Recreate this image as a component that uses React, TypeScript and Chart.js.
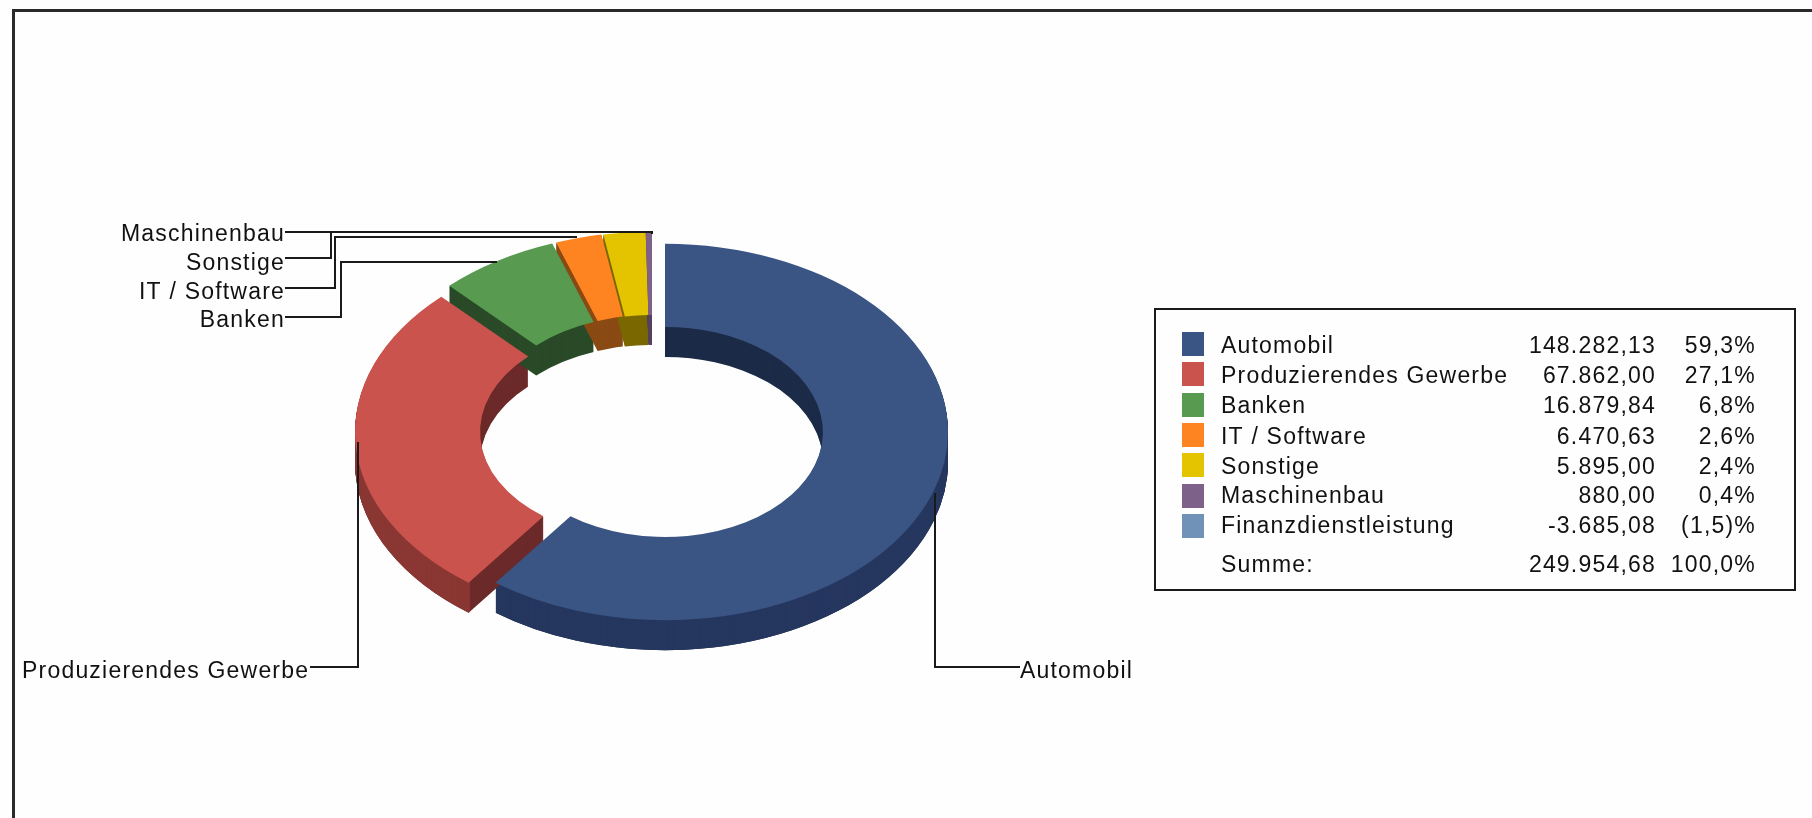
import React, { useEffect, useRef } from "react";
import { Chart, registerables } from "chart.js";

Chart.register(...registerables);

// ---- data ----
const categories = ["Automobil", "Produzierendes Gewerbe", "Banken", "IT / Software", "Sonstige", "Maschinenbau", "Finanzdienstleistung"];
const values = [148282.13, 67862.0, 16879.84, 6470.63, 5895.0, 880.0, -3685.08];
const valueLabels = ["148.282,13", "67.862,00", "16.879,84", "6.470,63", "5.895,00", "880,00", "-3.685,08"];
const percentLabels = ["59,3%", "27,1%", "6,8%", "2,6%", "2,4%", "0,4%", "(1,5)%"];
const sumLabel = "Summe:";
const sumValue = "249.954,68";
const sumPercent = "100,0%";

// ---- styles ----
const topColors = ["#3a5484", "#cb534e", "#579a50", "#fe8422", "#e4c400", "#7d6188", "#7092b8"];
const wallColors = ["#26375f", "#8a3733", "#2a4a28", "#8a4a14", "#7a6800", "#55405e", "#4a6280"];
const cutColors = ["#1c2b47", "#6b2a29", "#2a4a28", "#8a4a14", "#7a6800", "#55405e", "#4a6280"];
const explode = [[0, 0], [-27, 0], [-19, -11], [-15, -12], [-13, -12], [-13, -12], [0, 0]];
const TILT = 0.665;
const DEPTH = 30;
const FONT = '23px "Liberation Sans", Arial, sans-serif';
const SPACING = "1.2px";
const INK = "#111111";

const legendRows = [347, 377, 407, 438, 468, 497, 527];
const swatchTops = [332, 362, 393, 423, 453, 484, 514];

const pie3d = {
  id: "pie3d",
  beforeDatasetsDraw(chart: any) {
    const ctx = chart.ctx;
    const arcs = chart.getDatasetMeta(0).data;
    const place = (arc: any, i: number, dy: number) => {
      ctx.translate(arc.x + explode[i][0], arc.y + explode[i][1] + dy);
      ctx.scale(1, TILT);
      ctx.translate(-arc.x, -arc.y);
    };
    const paint = (arc: any, colour: string) => {
      const saved = arc.options;
      arc.options = { ...saved, backgroundColor: colour, borderColor: colour, borderWidth: 0 };
      arc.draw(ctx);
      arc.options = saved;
    };
    // side walls: cut faces and inner wall first, outer rim on top of them
    arcs.forEach((arc: any, i: number) => {
      if (!arc.circumference) return;
      for (let dy = DEPTH; dy >= 1; dy--) {
        ctx.save();
        place(arc, i, dy);
        paint(arc, cutColors[i]);
        ctx.restore();
      }
      const inner = arc.innerRadius;
      arc.innerRadius = arc.outerRadius - 3;
      for (let dy = DEPTH; dy >= 1; dy--) {
        ctx.save();
        place(arc, i, dy);
        paint(arc, wallColors[i]);
        ctx.restore();
      }
      arc.innerRadius = inner;
    });
    // top faces
    arcs.forEach((arc: any, i: number) => {
      if (!arc.circumference) return;
      ctx.save();
      place(arc, i, 0);
      paint(arc, topColors[i]);
      ctx.restore();
    });
    return false;
  },
};

const polyline = (ctx: any, pts: number[][]) => {
  ctx.beginPath();
  pts.forEach((p, i) => (i ? ctx.lineTo(p[0], p[1]) : ctx.moveTo(p[0], p[1])));
  ctx.stroke();
};

const annotations = {
  id: "annotations",
  afterDraw(chart: any) {
    const ctx = chart.ctx;
    ctx.save();
    // outer frame, open at the right and the bottom edge
    ctx.strokeStyle = "#2a2a2a";
    ctx.lineWidth = 3;
    polyline(ctx, [[13.5, 818], [13.5, 10.5], [1812, 10.5]]);

    // leader lines
    ctx.strokeStyle = "#1a1a1a";
    ctx.lineWidth = 2;
    polyline(ctx, [[935, 493], [935, 667], [1020, 667]]);
    polyline(ctx, [[358, 442], [358, 667], [310, 667]]);
    polyline(ctx, [[285, 232], [652, 232], [652, 234]]);
    polyline(ctx, [[285, 258], [331, 258], [331, 232]]);
    polyline(ctx, [[285, 288], [335, 288], [335, 237], [577, 237]]);
    polyline(ctx, [[285, 317], [341, 317], [341, 262], [497, 262]]);

    // callout labels
    ctx.fillStyle = INK;
    ctx.font = FONT;
    ctx.letterSpacing = SPACING;
    ctx.textBaseline = "middle";
    ctx.textAlign = "left";
    ctx.fillText(categories[0], 1020, 672);
    ctx.fillText(categories[1], 22, 672);
    ctx.textAlign = "right";
    ctx.fillText(categories[5], 285, 235);
    ctx.fillText(categories[4], 285, 264);
    ctx.fillText(categories[3], 285, 293);
    ctx.fillText(categories[2], 285, 321);

    // legend table
    ctx.lineWidth = 2;
    ctx.strokeStyle = "#1a1a1a";
    ctx.strokeRect(1155, 309, 640, 281);
    categories.forEach((name, i) => {
      ctx.fillStyle = topColors[i];
      ctx.fillRect(1182, swatchTops[i], 22, 24);
      ctx.fillStyle = INK;
      ctx.textAlign = "left";
      ctx.fillText(name, 1221, legendRows[i]);
      ctx.textAlign = "right";
      ctx.fillText(valueLabels[i], 1656, legendRows[i]);
      ctx.fillText(percentLabels[i], 1756, legendRows[i]);
    });
    ctx.textAlign = "left";
    ctx.fillText(sumLabel, 1221, 566);
    ctx.textAlign = "right";
    ctx.fillText(sumValue, 1656, 566);
    ctx.fillText(sumPercent, 1756, 566);
    ctx.restore();
  },
};

export default function App() {
  const ref = useRef<HTMLCanvasElement>(null);
  useEffect(() => {
    const drawn = values.map((v) => (v > 0 ? v : 0));
    const chart = new Chart(ref.current as HTMLCanvasElement, {
      type: "doughnut",
      data: {
        labels: categories,
        datasets: [{ data: drawn, backgroundColor: topColors, borderWidth: 0 }],
      },
      options: {
        animation: false,
        responsive: false,
        cutout: "55.8%",
        rotation: 0,
        layout: { padding: { left: 382, right: 864, top: 149, bottom: 103 } },
        plugins: { legend: { display: false }, title: { display: false }, tooltip: { enabled: false } },
      },
      plugins: [pie3d, annotations],
    } as any);
    return () => chart.destroy();
  }, []);
  return (
    <div style={{ position: "absolute", left: 0, top: 0, width: 1812, height: 818, background: "#fdfefd" }}>
      <canvas ref={ref} width={1812} height={818} style={{ display: "block" }} />
    </div>
  );
}
